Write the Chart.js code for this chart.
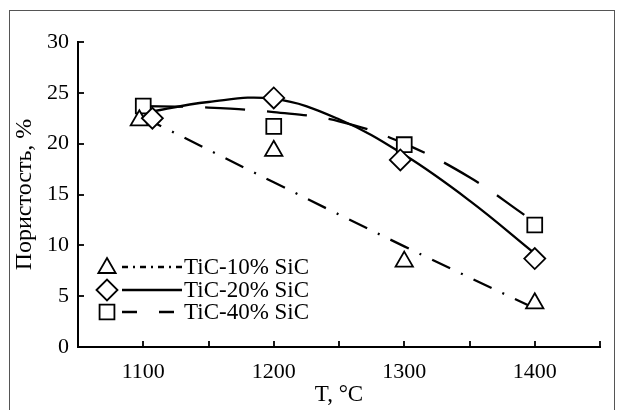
<!DOCTYPE html>
<html>
<head>
<meta charset="utf-8">
<script src="https://cdn.jsdelivr.net/npm/chart.js@4.4.1/dist/chart.umd.min.js"></script>
<style>
    html, body { margin: 0; padding: 0; background: #fff; }
    #wrap { width: 619px; height: 410px; }
</style>
</head>
<body>
<div id="wrap"><canvas id="chart" width="619" height="410"></canvas></div>
<script>
/*
        Porosity vs sintering temperature for TiC-SiC mixes.
    Markers are measured values, lines are the fitted curves.
*/

const seriesNames = ["TiC-10% SiC", "TiC-20% SiC", "TiC-40% SiC"];

// Measured points
const tic10T = [1097, 1200, 1300, 1400];
const tic10P = [22.3, 19.3, 8.4, 4.3];
const tic20T = [1107, 1200, 1297, 1400];
const tic20P = [22.5, 24.5, 18.4, 8.7];
const tic40T = [1100, 1200, 1300, 1400];
const tic40P = [23.7, 21.7, 19.9, 12.0];

// Fitted curves
const fit10T = [1100, 1200, 1300, 1395];
const fit10P = [22.6, 16.2, 9.9, 4.1];
const fit20T = [1100, 1150, 1200, 1250, 1300, 1350, 1400];
const fit20P = [23.0, 24.1, 24.4, 22.4, 18.9, 14.4, 9.2];
const fit40T = [1100, 1150, 1200, 1250, 1300, 1350, 1392];
const fit40P = [23.7, 23.55, 23.1, 22.2, 20.0, 16.7, 13.0];

const serif = "'Liberation Serif', 'Times New Roman', serif";

function toXY(xs, ys) {
    return xs.map((x, i) => ({ x: x, y: ys[i] }));
}

function markerSet(label, xs, ys, style, radius) {
    return {
        type: "scatter",
        label: label,
        data: toXY(xs, ys),
        showLine: false,
        pointStyle: style,
        pointRadius: radius,
        pointHoverRadius: radius,
        pointBorderWidth: 1.8,
        pointBorderColor: "#000",
        pointBackgroundColor: "#fff",
    };
}

function curveSet(label, xs, ys, dash) {
    return {
        type: "line",
        label: label,
        data: toXY(xs, ys),
        borderColor: "#000",
        borderWidth: 2.3,
        borderDash: dash,
        pointRadius: 0,
        tension: 0.4,
        fill: false,
    };
}

const dash10 = [20, 12, 2, 12];
const dash40 = [40, 22];

// Frame, inward tick marks and the legend inside the plot
const extras = {
    id: "extras",
    afterDraw(chart) {
        const ctx = chart.ctx;
        const xs = chart.scales.x;
        const ys = chart.scales.y;
        const area = chart.chartArea;

        ctx.save();
        ctx.strokeStyle = "#000";
        ctx.lineWidth = 1.8;
        xs.ticks.forEach((t) => {
            if (t.value <= xs.min) return;
            const px = Math.round(xs.getPixelForValue(t.value));
            ctx.beginPath();
            ctx.moveTo(px, area.bottom);
            ctx.lineTo(px, area.bottom - 6);
            ctx.stroke();
        });
        ys.ticks.forEach((t) => {
            const py = Math.round(ys.getPixelForValue(t.value));
            ctx.beginPath();
            ctx.moveTo(area.left, py);
            ctx.lineTo(area.left + 6, py);
            ctx.stroke();
        });

        // outer frame
        ctx.strokeStyle = "#555";
        ctx.lineWidth = 1;
        ctx.strokeRect(9.5, 10.5, 605, 420);

        // legend
        const rows = [267, 290, 312];
        const styles = ["triangle", "rectRot", "rect"];
        const radii = [10, 10.5, 10.5];
        const dashes = [[6, 5, 2, 5], [], [15, 22]];
        ctx.font = "23px " + serif;
        ctx.textBaseline = "middle";
        for (let i = 0; i < 3; i++) {
            const y = rows[i];
            ctx.strokeStyle = "#000";
            ctx.fillStyle = "#fff";
            ctx.lineWidth = 1.8;
            ctx.setLineDash([]);
            Chart.helpers.drawPoint(ctx, { pointStyle: styles[i], radius: radii[i], rotation: 0, borderWidth: 1.8 }, 107, i == 0 ? y + 1 : y);
            ctx.lineWidth = 2.3;
            ctx.setLineDash(dashes[i]);
            ctx.beginPath();
            ctx.moveTo(122, y);
            ctx.lineTo(182, y);
            ctx.stroke();
            ctx.setLineDash([]);
            ctx.fillStyle = "#000";
            ctx.fillText(seriesNames[i], 184, y + 1);
        }
        ctx.restore();
    },
};

const ctx = document.getElementById("chart").getContext("2d");

new Chart(ctx, {
    data: {
        datasets: [
            markerSet(seriesNames[1], tic20T, tic20P, "rectRot", 10.5),
            markerSet(seriesNames[0], tic10T, tic10P, "triangle", 10),
            markerSet(seriesNames[2], tic40T, tic40P, "rect", 10.5),
            curveSet(seriesNames[0], fit10T, fit10P, dash10),
            curveSet(seriesNames[1], fit20T, fit20P, []),
            curveSet(seriesNames[2], fit40T, fit40P, dash40),
        ],
    },
    options: {
        responsive: false,
        animation: false,
        devicePixelRatio: 1,
        layout: { padding: { top: 42, right: 19, bottom: 0, left: 0 } },
        plugins: {
            legend: { display: false },
            tooltip: { enabled: false },
        },
        scales: {
            x: {
                type: "linear",
                min: 1050,
                max: 1450,
                afterFit: (s) => { s.height = 63; },
                grid: { display: false, drawTicks: false },
                border: { display: true, color: "#000", width: 2 },
                ticks: {
                    stepSize: 50,
                    padding: 12,
                    maxRotation: 0,
                    autoSkip: false,
                    color: "#000",
                    font: { family: serif, size: 22 },
                    callback: (v) => (v % 100 === 0 ? String(v) : ""),
                },
                title: {
                    display: true,
                    text: "T, °C",
                    color: "#000",
                    font: { family: serif, size: 23 },
                    padding: { top: 0, bottom: 1 },
                },
            },
            y: {
                min: 0,
                max: 30,
                afterFit: (s) => { s.width = 78; },
                grid: { display: false, drawTicks: false },
                border: { display: true, color: "#000", width: 2 },
                ticks: {
                    stepSize: 5,
                    padding: 9,
                    color: "#000",
                    font: { family: serif, size: 22 },
                },
                title: {
                    display: true,
                    text: "Пористость, %",
                    color: "#000",
                    font: { family: serif, size: 24 },
                    padding: { top: 10, bottom: 0 },
                },
            },
        },
    },
    plugins: [extras],
});
</script>
</body>
</html>
